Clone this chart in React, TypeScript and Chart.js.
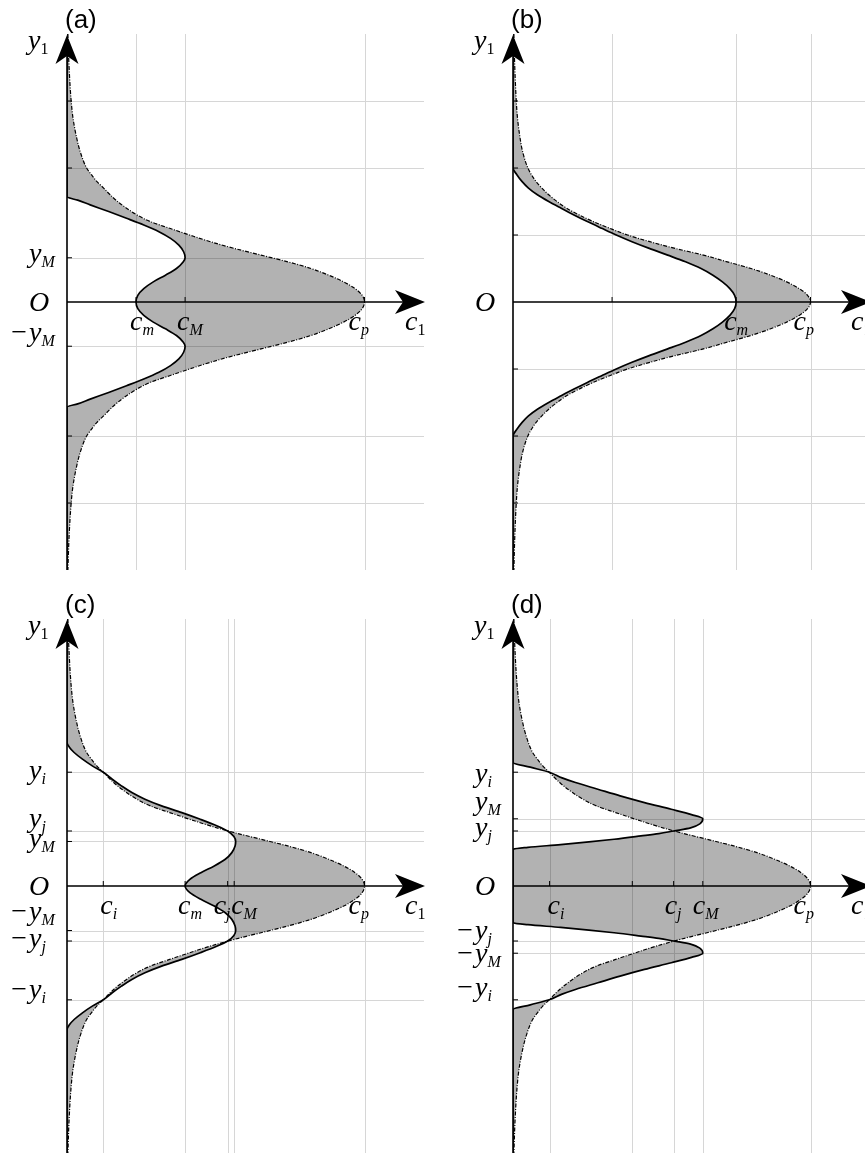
import React, { useEffect, useRef } from 'react';
import { Chart, registerables } from 'chart.js';

Chart.register(...registerables);

// ---------------- DATA (upper half; every profile is symmetric about y1 = 0) ----------------
// dash-dot envelope, c1 in units of c_p
const ENVELOPE_Y = [0, 0.1, 0.2, 0.3, 0.4, 0.5, 0.6, 0.7, 0.8, 0.9, 1.0, 1.1, 1.2, 1.3, 1.4, 1.5, 1.6, 1.7, 1.8, 1.9, 2.0, 2.25, 2.5, 2.75, 3.0, 3.5, 4.0];
const ENVELOPE_C = [1.0, 0.992, 0.968, 0.93, 0.88, 0.82, 0.742, 0.652, 0.562, 0.482, 0.412, 0.345, 0.28, 0.235, 0.2, 0.17, 0.145, 0.123, 0.1, 0.082, 0.066, 0.044, 0.03, 0.02, 0.014, 0.007, 0.003];
// panel (b) envelope (slightly narrower)
const ENVELOPE_B_C = [1.0, 0.99, 0.962, 0.92, 0.866, 0.8, 0.72, 0.64, 0.545, 0.46, 0.385, 0.325, 0.27, 0.222, 0.18, 0.148, 0.12, 0.097, 0.077, 0.062, 0.05, 0.032, 0.022, 0.015, 0.011, 0.006, 0.003];

// solid curves
const SOLID_A_Y = [0, 0.1, 0.2, 0.3, 0.4, 0.5, 0.6, 0.66, 0.75, 0.85, 0.95, 1.05, 1.15, 1.25, 1.35, 1.45, 1.52, 1.57, 2.0, 3.0, 4.0];
const SOLID_A_C = [0.232, 0.238, 0.258, 0.29, 0.331, 0.368, 0.391, 0.397, 0.392, 0.376, 0.348, 0.309, 0.258, 0.2, 0.14, 0.078, 0.036, 0, 0, 0, 0];

const SOLID_B_Y = [0, 0.1, 0.2, 0.3, 0.4, 0.5, 0.6, 0.7, 0.8, 0.9, 1.0, 1.1, 1.2, 1.3, 1.4, 1.5, 1.6, 1.7, 1.8, 1.9, 2.0, 3.0, 4.0];
const SOLID_B_C = [0.75, 0.745, 0.729, 0.704, 0.672, 0.632, 0.58, 0.52, 0.458, 0.4, 0.347, 0.298, 0.25, 0.205, 0.162, 0.12, 0.082, 0.052, 0.03, 0.013, 0, 0, 0];

const SOLID_C_Y = [0, 0.1, 0.2, 0.3, 0.4, 0.5, 0.6, 0.667, 0.74, 0.824, 0.9, 1.0, 1.1, 1.2, 1.3, 1.4, 1.5, 1.6, 1.705, 1.8, 1.9, 2.0, 2.08, 2.15, 3.0, 4.0];
const SOLID_C_C = [0.397, 0.413, 0.45, 0.495, 0.532, 0.554, 0.565, 0.567, 0.561, 0.54, 0.505, 0.448, 0.386, 0.318, 0.262, 0.218, 0.183, 0.152, 0.122, 0.085, 0.052, 0.024, 0.008, 0, 0, 0];

const SOLID_D_Y = [0, 0.3, 0.55, 0.58, 0.62, 0.66, 0.7, 0.75, 0.785, 0.824, 0.87, 0.93, 1.007, 1.07, 1.15, 1.25, 1.35, 1.45, 1.55, 1.62, 1.705, 1.78, 1.85, 3.0, 4.0];
const SOLID_D_C = [0, 0, 0, 0.05, 0.16, 0.255, 0.34, 0.43, 0.49, 0.54, 0.597, 0.628, 0.638, 0.6, 0.532, 0.442, 0.36, 0.285, 0.21, 0.165, 0.122, 0.058, 0, 0, 0];

// tick values and labels
const A_X_TICKS = [0.232, 0.397, 1];
const A_X_LABELS = ['c_m', 'c_M', 'c_p'];
const A_Y_TICKS = [3, 2, 0.66, -0.66, -2, -3];
const A_Y_LABELS = ['', '', 'y_M', '-y_M', '', ''];

const B_X_TICKS = [0.333, 0.75, 1];
const B_X_LABELS = ['', 'c_m', 'c_p'];
const B_Y_TICKS = [3, 2, 1, -1, -2, -3];
const B_Y_LABELS = ['', '', '', '', '', ''];

const C_X_TICKS = [0.122, 0.397, 0.54, 0.562, 1];
const C_X_LABELS = ['c_i', 'c_m', 'c_j', 'c_M', 'c_p'];
const C_Y_TICKS = [1.705, 0.824, 0.667, -0.667, -0.824, -1.705];
const C_Y_LABELS = ['y_i', 'y_j', 'y_M', '-y_M', '-y_j', '-y_i'];

const D_X_TICKS = [0.123, 0.401, 0.54, 0.638, 1];
const D_X_LABELS = ['c_i', '', 'c_j', 'c_M', 'c_p'];
const D_Y_TICKS = [1.705, 1.007, 0.824, -0.824, -1.007, -1.705];
const D_Y_LABELS = ['y_i', 'y_M', 'y_j', '-y_j', '-y_M', '-y_i'];

const X_MAX = 1.2;
const Y_MIN = -4;
const Y_MAX = 4;

// ---------------- STYLE / LAYOUT ----------------
const PANEL_W = 446;
const SERIF = '"Liberation Serif", "DejaVu Serif", serif';
const SANS = '"Liberation Sans", Arial, sans-serif';
const MAIN_SIZE = 28;
const SUB_SIZE = 16;
const GRID_COLOR = '#d6d6d6';
const FILL_COLOR = 'rgba(0,0,0,0.30)';

type PanelCfg = {
  tag: string; left: number; top: number; height: number; padTop: number; padBottom: number;
  envC: number[]; solidY: number[]; solidC: number[];
  xTicks: number[]; xLabels: string[]; xDx: number[];
  yTicks: number[]; yLabels: string[]; yDy: number[];
};

const PANELS: PanelCfg[] = [
  { tag: '(a)', left: 0, top: 0, height: 580, padTop: 34, padBottom: 10, envC: ENVELOPE_C, solidY: SOLID_A_Y, solidC: SOLID_A_C,
    xTicks: A_X_TICKS, xLabels: A_X_LABELS, xDx: [-6, -8, -16], yTicks: A_Y_TICKS, yLabels: A_Y_LABELS, yDy: [0, 0, 4, -5, 0, 0] },
  { tag: '(b)', left: PANEL_W, top: 0, height: 580, padTop: 34, padBottom: 10, envC: ENVELOPE_B_C, solidY: SOLID_B_Y, solidC: SOLID_B_C,
    xTicks: B_X_TICKS, xLabels: B_X_LABELS, xDx: [0, -12, -17], yTicks: B_Y_TICKS, yLabels: B_Y_LABELS, yDy: [0, 0, 0, 0, 0, 0] },
  { tag: '(c)', left: 0, top: 580, height: 575, padTop: 39, padBottom: 2, envC: ENVELOPE_C, solidY: SOLID_C_Y, solidC: SOLID_C_C,
    xTicks: C_X_TICKS, xLabels: C_X_LABELS, xDx: [-3, -7, -14, -3, -16], yTicks: C_Y_TICKS, yLabels: C_Y_LABELS, yDy: [7, -4, 6, -11, 6, -2] },
  { tag: '(d)', left: PANEL_W, top: 580, height: 575, padTop: 39, padBottom: 2, envC: ENVELOPE_C, solidY: SOLID_D_Y, solidC: SOLID_D_C,
    xTicks: D_X_TICKS, xLabels: D_X_LABELS, xDx: [-2, 0, -9, -10, -17], yTicks: D_Y_TICKS, yLabels: D_Y_LABELS, yDy: [10, -9, 5, -2, 9, -4] },
];

// build full symmetric profile ordered from top (y1 = +4) to bottom (y1 = -4)
function profile(ys: number[], cs: number[]) {
  const pts: { x: number; y: number }[] = [];
  for (let i = ys.length - 1; i >= 0; i--) pts.push({ x: cs[i], y: ys[i] });
  for (let i = 1; i < ys.length; i++) pts.push({ x: cs[i], y: -ys[i] });
  return pts;
}

function drawMath(ctx: CanvasRenderingContext2D, label: string, x: number, baseline: number) {
  let s = label;
  let neg = false;
  if (s[0] === '-') { neg = true; s = s.slice(1); }
  const us = s.indexOf('_');
  const base = us >= 0 ? s.slice(0, us) : s;
  const sub = us >= 0 ? s.slice(us + 1) : '';
  ctx.fillStyle = '#000';
  ctx.textBaseline = 'alphabetic';
  ctx.textAlign = 'left';
  if (neg) {
    ctx.font = `${MAIN_SIZE}px ${SERIF}`;
    const mw = ctx.measureText('\u2212').width;
    ctx.fillText('\u2212', x - mw - 2, baseline);
  }
  ctx.font = `italic ${MAIN_SIZE}px ${SERIF}`;
  ctx.fillText(base, x, baseline);
  const bw = ctx.measureText(base).width;
  if (sub) {
    const digit = /^[0-9]+$/.test(sub);
    ctx.font = `${digit ? '' : 'italic '}${SUB_SIZE}px ${SERIF}`;
    ctx.fillText(sub, x + bw, baseline + 5);
  }
}

function arrowUp(ctx: CanvasRenderingContext2D, x: number, tipY: number) {
  ctx.beginPath();
  ctx.moveTo(x, tipY);
  ctx.lineTo(x + 11.5, tipY + 29);
  ctx.lineTo(x, tipY + 21);
  ctx.lineTo(x - 11.5, tipY + 29);
  ctx.closePath();
  ctx.fill();
}

function arrowRight(ctx: CanvasRenderingContext2D, tipX: number, y: number) {
  ctx.beginPath();
  ctx.moveTo(tipX, y);
  ctx.lineTo(tipX - 30, y - 12);
  ctx.lineTo(tipX - 22, y);
  ctx.lineTo(tipX - 30, y + 12);
  ctx.closePath();
  ctx.fill();
}

function makeDecor(p: PanelCfg) {
  return {
    id: 'decor',
    beforeDatasetsDraw(chart: any) {
      const { ctx, chartArea: a, scales } = chart;
      const xs = scales.x;
      const ys = scales.y;
      ctx.save();
      ctx.strokeStyle = GRID_COLOR;
      ctx.lineWidth = 1;
      ctx.beginPath();
      p.xTicks.forEach((v) => {
        const px = Math.round(xs.getPixelForValue(v)) + 0.5;
        ctx.moveTo(px, a.top);
        ctx.lineTo(px, a.bottom);
      });
      p.yTicks.forEach((v) => {
        const py = Math.round(ys.getPixelForValue(v)) + 0.5;
        ctx.moveTo(a.left, py);
        ctx.lineTo(a.right, py);
      });
      ctx.stroke();
      ctx.restore();
    },
    afterDatasetsDraw(chart: any) {
      const { ctx, chartArea: a, scales } = chart;
      const xs = scales.x;
      const ys = scales.y;
      const x0 = xs.getPixelForValue(0);
      const y0 = ys.getPixelForValue(0);
      const xTip = xs.getPixelForValue(X_MAX) + 1;
      const yTip = ys.getPixelForValue(Y_MAX) + 1;
      ctx.save();
      ctx.strokeStyle = '#000';
      ctx.fillStyle = '#000';
      ctx.lineWidth = 1.6;
      ctx.beginPath();
      ctx.moveTo(x0, a.bottom);
      ctx.lineTo(x0, yTip + 15);
      ctx.moveTo(x0, y0);
      ctx.lineTo(xTip - 15, y0);
      ctx.stroke();
      arrowUp(ctx, x0, yTip);
      arrowRight(ctx, xTip, y0);
      // small ticks
      ctx.lineWidth = 1;
      ctx.beginPath();
      p.xTicks.forEach((v) => {
        const px = xs.getPixelForValue(v);
        ctx.moveTo(px, y0);
        ctx.lineTo(px, y0 - 5);
      });
      p.yTicks.forEach((v) => {
        const py = ys.getPixelForValue(v);
        ctx.moveTo(x0, py);
        ctx.lineTo(x0 + 5, py);
      });
      ctx.stroke();
      // labels
      p.yLabels.forEach((lab, i) => {
        if (!lab) return;
        drawMath(ctx, lab, x0 - 38, ys.getPixelForValue(p.yTicks[i]) + p.yDy[i]);
      });
      drawMath(ctx, 'O', x0 - 38, y0 + 9);
      drawMath(ctx, 'y_1', x0 - 39, a.top + 15);
      p.xLabels.forEach((lab, i) => {
        if (!lab) return;
        drawMath(ctx, lab, xs.getPixelForValue(p.xTicks[i]) + p.xDx[i], y0 + 28);
      });
      drawMath(ctx, 'c_1', xTip - 20, y0 + 28);
      ctx.font = `26px ${SANS}`;
      ctx.textAlign = 'left';
      ctx.textBaseline = 'alphabetic';
      ctx.fillText(p.tag, x0 - 2, a.top - 6);
      ctx.restore();
    },
  };
}

function Panel({ p }: { p: PanelCfg }) {
  const ref = useRef<HTMLCanvasElement>(null);
  useEffect(() => {
    const canvas = ref.current;
    if (!canvas) return;
    const chart = new Chart(canvas, {
      type: 'line',
      data: {
        datasets: [
          {
            data: profile(p.solidY, p.solidC),
            borderColor: '#000',
            borderWidth: 1.7,
            pointRadius: 0,
            fill: '+1',
            backgroundColor: FILL_COLOR,
            cubicInterpolationMode: 'monotone',
          },
          {
            data: profile(ENVELOPE_Y, p.envC),
            borderColor: '#000',
            borderWidth: 1.2,
            borderDash: [4, 1.5, 1, 1.5],
            pointRadius: 0,
            fill: false,
            cubicInterpolationMode: 'monotone',
          },
        ],
      } as any,
      options: {
        indexAxis: 'y',
        responsive: false,
        animation: false,
        events: [],
        layout: { padding: { left: 67, right: PANEL_W - 67 - 357, top: p.padTop, bottom: p.padBottom } },
        scales: {
          x: { type: 'linear', min: 0, max: X_MAX, display: false },
          y: { type: 'linear', min: Y_MIN, max: Y_MAX, display: false },
        },
        plugins: { legend: { display: false }, tooltip: { enabled: false } },
      } as any,
      plugins: [makeDecor(p)],
    });
    return () => chart.destroy();
  }, [p]);
  return (
    <canvas
      ref={ref}
      width={PANEL_W}
      height={p.height}
      style={{ position: 'absolute', left: p.left, top: p.top, width: PANEL_W, height: p.height }}
    />
  );
}

export default function App() {
  return (
    <div style={{ position: 'fixed', left: 0, top: 0, width: 865, height: 1155, overflow: 'hidden', background: '#fff' }}>
      {PANELS.map((p) => (
        <Panel key={p.tag} p={p} />
      ))}
    </div>
  );
}
